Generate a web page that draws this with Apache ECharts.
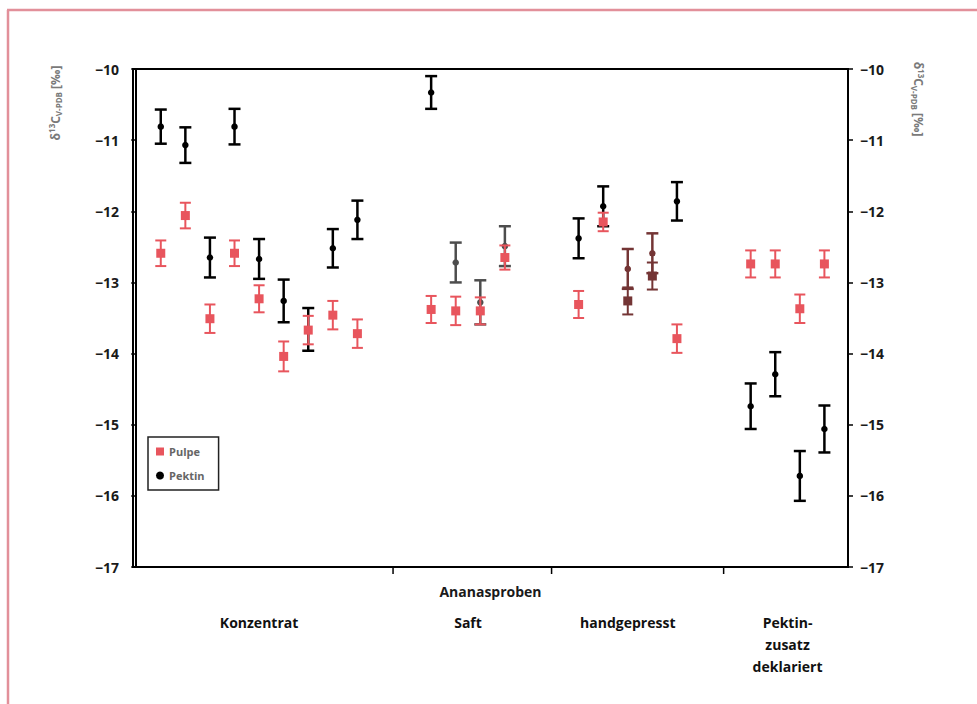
<!DOCTYPE html>
<html>
<head>
<meta charset="utf-8">
<style>
html,body{margin:0;padding:0;background:#fff;}
#chart{width:977px;height:704px;}
</style>
<script src="https://cdn.jsdelivr.net/npm/echarts@6/dist/echarts.min.js"></script>
</head>
<body>
<div id="chart"></div>
<script>
// ---------------- data ----------------
const groupNames = ['Konzentrat', 'Saft', 'handgepresst', 'Pektin-\nzusatz\ndeklariert'];
const axisTitle = 'Ananasproben';
const samplePos = [1,2,3,4,5,6,7,8,9, 12,13,14,15, 18,19,20,21,22, 25,26,27,28];
const sampleGroup = [0,0,0,0,0,0,0,0,0, 1,1,1,1, 2,2,2,2,2, 3,3,3,3];
const groupBounds = [10.45, 16.9, 23.9];
const pulpe = [-12.59,-12.06,-13.51,-12.59,-13.23,-14.04,-13.67,-13.46,-13.72,
               -13.38,-13.40,-13.40,-12.65,
               -13.31,-12.15,-13.26,-12.91,-13.79,
               -12.74,-12.74,-13.37,-12.74];
const pulpeErr = [0.18,0.18,0.20,0.18,0.19,0.21,0.20,0.20,0.20,
                  0.19,0.20,0.19,0.17,
                  0.19,0.13,0.19,0.19,0.20,
                  0.19,0.19,0.20,0.19];
const pektin = [-10.81,-11.07,-12.65,-10.81,-12.67,-13.26,-13.66,-12.52,-12.12,
                -10.33,-12.72,-13.28,-12.49,
                -12.38,-11.93,-12.81,-12.59,-11.86,
                -14.74,-14.29,-15.72,-15.06];
const pektinErr = [0.24,0.25,0.28,0.25,0.28,0.30,0.30,0.27,0.27,
                   0.23,0.28,0.31,0.28,
                   0.28,0.28,0.28,0.28,0.27,
                   0.32,0.31,0.35,0.33];
const yTicks = [-17,-16,-15,-14,-13,-12,-11,-10];

// ---------------- style ----------------
const RED = '#e8555d';
const BLACK = '#000000';
const GREY = '#4d4d4d';
const BROWN = '#743535';
const greyPektin = new Set([13,14,15]);   // sample positions printed greyish
const brownPairs = new Set([20,21]);      // sample positions printed brownish
const FONT = '"Open Sans", "DejaVu Sans", sans-serif';

function pektinColor(pos){ if (brownPairs.has(pos)) return BROWN; if (greyPektin.has(pos)) return GREY; return BLACK; }
function pulpeColor(pos){ if (brownPairs.has(pos)) return BROWN; return RED; }

const groupCenters = groupNames.map((g, gi) => {
  const ps = samplePos.filter((p, i) => sampleGroup[i] === gi);
  return ps.reduce((a, b) => a + b, 0) / ps.length;
});

const pektinPts = samplePos.map((p, i) => ({value:[p, pektin[i]], itemStyle:{color:pektinColor(p), opacity:1}}));
const pulpePts = samplePos.map((p, i) => ({value:[p, pulpe[i]], itemStyle:{color:pulpeColor(p), opacity:1}}));
const pektinBars = samplePos.map((p, i) => [p, pektin[i] - pektinErr[i], pektin[i] + pektinErr[i]]);
const pulpeBars = samplePos.map((p, i) => [p, pulpe[i] - pulpeErr[i], pulpe[i] + pulpeErr[i]]);

function errRender(colorFn, capHalf, lw){
  return function(params, api){
    const x = api.value(0);
    const lo = api.coord([x, api.value(1)]);
    const hi = api.coord([x, api.value(2)]);
    const c = colorFn(x);
    const st = {stroke:c, lineWidth:lw};
    return {type:'group', children:[
      {type:'line', shape:{x1:lo[0], y1:lo[1], x2:hi[0], y2:hi[1]}, style:st},
      {type:'line', shape:{x1:lo[0]-capHalf, y1:lo[1], x2:lo[0]+capHalf, y2:lo[1]}, style:st},
      {type:'line', shape:{x1:hi[0]-capHalf, y1:hi[1], x2:hi[0]+capHalf, y2:hi[1]}, style:st}
    ]};
  };
}

const chart = echarts.init(document.getElementById('chart'), null, {renderer:'svg'});
const yLabel = {
  fontFamily: FONT, fontSize: 14, fontWeight: 'bold', color: '#1a1a1a',
  formatter: v => String(v).replace('-', '\u2212')
};
const titleRich = {
  sup:{fontSize:8, fontWeight:'bold', fontFamily:FONT, fill:'#7a7a7a', padding:[0,0,7,0]},
  sub:{fontSize:8, fontWeight:'bold', fontFamily:FONT, fill:'#7a7a7a', padding:[7,0,0,0]}
};
chart.setOption({
  backgroundColor: '#ffffff',
  animation: false,
  grid: {left:133, right:129, top:69, bottom:137, show:true, borderColor:'#000', borderWidth:2, backgroundColor:'transparent'},
  xAxis: {
    type:'value', min:-0.13, max:28.96,
    name: axisTitle, nameLocation:'middle', nameGap:17,
    nameTextStyle:{fontFamily:FONT, fontSize:14, fontWeight:'bold', color:'#1a1a1a', verticalAlign:'top'},
    axisLine:{show:true, lineStyle:{color:'#000', width:2}},
    axisTick:{show:false}, axisLabel:{show:false}, splitLine:{show:false}
  },
  yAxis: [
    {type:'value', min:-17, max:-10, interval:1, position:'left',
     axisLine:{show:true, lineStyle:{color:'#000', width:2}},
     axisTick:{show:true, length:5, lineStyle:{color:'#000', width:1.5}},
     axisLabel:Object.assign({margin:14}, yLabel), splitLine:{show:false}},
    {type:'value', min:-17, max:-10, interval:1, position:'right',
     axisLine:{show:true, lineStyle:{color:'#000', width:2}},
     axisTick:{show:true, length:5, lineStyle:{color:'#000', width:1.5}},
     axisLabel:Object.assign({margin:12}, yLabel), splitLine:{show:false}}
  ],
  legend: {
    left:148, top:437, orient:'vertical', itemGap:13, itemWidth:8, itemHeight:8,
    padding:[9,14,9,8], borderColor:'#222', borderWidth:1.5, backgroundColor:'#fff',
    textStyle:{fontFamily:FONT, fontSize:11, fontWeight:'bold', color:'#666'},
    data:[{name:'Pulpe', icon:'rect', itemStyle:{color:RED, opacity:1}}, {name:'Pektin', icon:'circle', itemStyle:{color:BLACK, opacity:1}}]
  },
  series: [
    {type:'custom', name:'PektinErr', renderItem:errRender(pektinColor, 6, 2.5), data:pektinBars, encode:{x:0, y:[1,2]}, z:2, silent:true},
    {type:'scatter', name:'Pektin', symbol:'circle', symbolSize:6.5, itemStyle:{color:BLACK, opacity:1}, data:pektinPts, z:3},
    {type:'custom', name:'PulpeErr', renderItem:errRender(pulpeColor, 5.5, 2), data:pulpeBars, encode:{x:0, y:[1,2]}, z:4, silent:true},
    {type:'scatter', name:'Pulpe', symbol:'rect', symbolSize:9, itemStyle:{color:RED, opacity:1}, data:pulpePts, z:5},
    {type:'custom', name:'bounds', silent:true, clip:false, data:groupBounds.map(b => [b, -17]),
     renderItem:function(params, api){
       const p = api.coord([api.value(0), api.value(1)]);
       return {type:'line', shape:{x1:p[0], y1:p[1], x2:p[0], y2:p[1]+7}, style:{stroke:'#000', lineWidth:1.5}};
     }},
    {type:'custom', name:'groups', silent:true, clip:false, data:groupCenters.map((c, i) => [c, -17, i]),
     renderItem:function(params, api){
       const p = api.coord([api.value(0), api.value(1)]);
       return {type:'text', x:p[0], y:p[1]+44, style:{text:groupNames[api.value(2)], fill:'#111',
         font:'bold 14px ' + FONT, align:'center', verticalAlign:'top', lineHeight:22}};
     }}
  ],
  graphic: [
    {type:'line', shape:{x1:7, y1:10, x2:977, y2:10}, style:{stroke:'#e2909a', lineWidth:2.5}},
    {type:'line', shape:{x1:8, y1:10, x2:8, y2:704}, style:{stroke:'#e2909a', lineWidth:2.5}},
    {type:'text', x:55, y:103, rotation:Math.PI/2,
     style:{text:'\u03b4{sup|13}C{sub|V-PDB} [\u2030]', fill:'#7a7a7a', font:'bold 12px ' + FONT,
       align:'center', verticalAlign:'middle', rich:titleRich}},
    {type:'text', x:918, y:99, rotation:-Math.PI/2,
     style:{text:'\u03b4{sup|13}C{sub|V-PDB} [\u2030]', fill:'#7a7a7a', font:'bold 12px ' + FONT,
       align:'center', verticalAlign:'middle', rich:titleRich}}
  ]
});
</script>
</body>
</html>
